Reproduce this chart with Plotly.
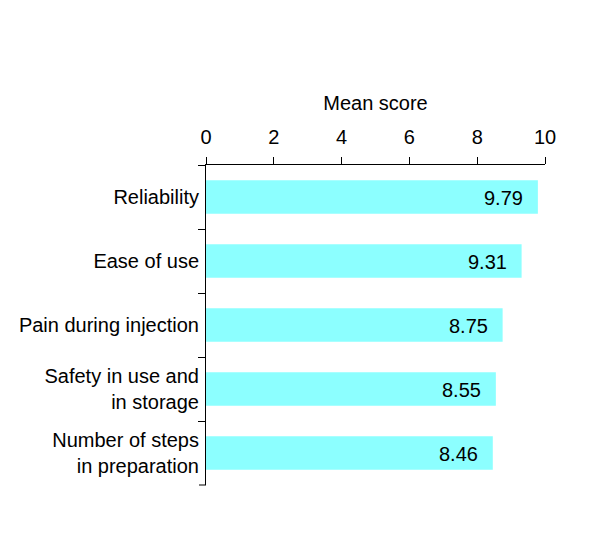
import plotly.graph_objects as go

categories = ["Reliability", "Ease of use", "Pain during injection",
              "Safety in use and<br>in storage", "Number of steps<br>in preparation"]
scores = [9.79, 9.31, 8.75, 8.55, 8.46]
score_labels = ["9.79", "9.31", "8.75", "8.55", "8.46"]
x_ticks = [0, 2, 4, 6, 8, 10]

FONT = "Liberation Sans, Arial, sans-serif"

fig = go.Figure()
fig.add_trace(go.Bar(
    x=scores, y=categories, orientation="h",
    marker=dict(color="#8CFFFF", line=dict(width=0)),
    width=0.52, hoverinfo="skip",
))
for v, c, t in zip(scores, categories, score_labels):
    fig.add_annotation(x=v, y=c, text=t, showarrow=False, xanchor="right",
                       xshift=-13, yshift=-1,
                       font=dict(size=20, color="black", family=FONT))

# closing tick at the bottom boundary of the category axis
fig.add_shape(type="line", xref="paper", yref="paper",
              x0=-7 / 339, x1=0, y0=0, y1=0,
              line=dict(color="black", width=1))

fig.update_layout(
    width=592, height=540,
    margin=dict(l=198, r=55, t=157, b=63, autoexpand=False),
    plot_bgcolor="white", paper_bgcolor="white",
    font=dict(family=FONT, size=20, color="black"),
    showlegend=False,
    xaxis=dict(side="top", range=[0, 10], tickvals=x_ticks, automargin=False,
               showline=True, linecolor="black", linewidth=1,
               ticks="outside", ticklen=7, tickcolor="black",
               showgrid=False, zeroline=False, ticklabelstandoff=5,
               title=dict(text="Mean score", standoff=10,
                          font=dict(size=20))),
    yaxis=dict(autorange="reversed", showline=True, linecolor="black",
               linewidth=1, ticks="outside", ticklen=7, tickcolor="black",
               tickson="boundaries", showgrid=False, zeroline=False,
               automargin=False, ticklabelstandoff=2),
)

fig.write_html("out.html")
